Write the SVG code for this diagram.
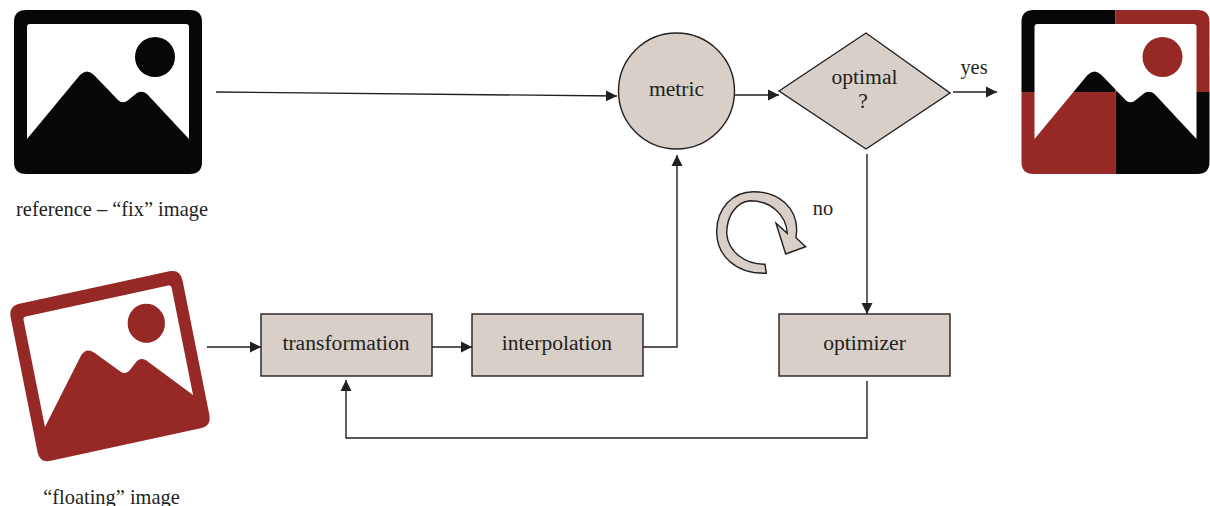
<svg xmlns="http://www.w3.org/2000/svg" width="1210" height="506" viewBox="0 0 1210 506">
<style>
text{font-family:"Liberation Serif","Times New Roman",serif;font-size:20.4px;fill:#231f20;text-anchor:middle}
.l{font-size:21.6px}
.n{fill:#d8d0c8;stroke:#231f20;stroke-width:1.4}
.c{fill:none;stroke:#231f20;stroke-width:1.4;marker-end:url(#a)}
</style>
<defs>
<marker id="a" markerUnits="userSpaceOnUse" markerWidth="13" markerHeight="13" refX="11" refY="6" orient="auto"><path d="M0 .5L11 6L0 11.5Z" fill="#231f20"/></marker>
<path id="pic" fill-rule="evenodd" d="M26 10H190Q202 10 202 22V162Q202 174 190 174H26Q14 174 14 162V22Q14 10 26 10ZM30 24Q27 24 27 27V139L80 75Q87 68 94 75L118 100Q122 104 127 101L137 93Q142 90 147 94L189 139V27Q189 24 186 24ZM155 37A20 20 0 1 0 155.01 77A20 20 0 1 0 155 37Z"/>
<clipPath id="tl"><rect x="0" y="0" width="108" height="92"/></clipPath>
<clipPath id="tr"><rect x="108" y="0" width="110" height="92"/></clipPath>
<clipPath id="bl"><rect x="0" y="92" width="108" height="90"/></clipPath>
<clipPath id="br"><rect x="108" y="92" width="110" height="90"/></clipPath>
</defs>
<g id="reference-image"><use href="#pic" fill="#070707"/><text x="112" y="216">reference – “fix” image</text></g>
<g id="floating-image"><use href="#pic" fill="#962826" transform="matrix(.914 -.198 .191 .957 -6.26 299.4)"/><text x="111.5" y="504">“floating” image</text></g>
<g id="result-image" transform="translate(1007.5 0)">
<use href="#pic" fill="#070707" clip-path="url(#tl)"/>
<use href="#pic" fill="#962826" clip-path="url(#tr)"/>
<use href="#pic" fill="#962826" clip-path="url(#bl)"/>
<use href="#pic" fill="#070707" clip-path="url(#br)"/>
</g>
<g id="connectors">
<path class="c" d="M216 92L617 96"/>
<path class="c" d="M735 95H779"/>
<path class="c" d="M953 92H997"/>
<path class="c" d="M867 154V314"/>
<path class="c" d="M207 347H261"/>
<path class="c" d="M432 347H472"/>
<path class="c" d="M643 347H677V155"/>
<path class="c" d="M867 381V438H346V380"/>
</g>
<g id="metric"><circle class="n" cx="676.5" cy="91" r="58"/><text class="l" x="676.5" y="96">metric</text></g>
<g id="optimal"><path class="n" d="M779 91L866 33L950 93L866 149Z"/><text class="l" x="864.5" y="84">optimal</text><text class="l" x="863" y="108">?</text></g>
<g id="transformation"><rect class="n" x="261" y="314" width="171" height="62"/><text class="l" x="346" y="350">transformation</text></g>
<g id="interpolation"><rect class="n" x="472" y="314" width="171" height="62"/><text class="l" x="557" y="350">interpolation</text></g>
<g id="optimizer"><rect class="n" x="779" y="314" width="171" height="62"/><text class="l" x="864.5" y="350">optimizer</text></g>
<g id="loop"><path class="n" d="M766.3 273.3C735 274 716.7 255 716.7 231.7C716.7 208 733 191.7 753.3 191.7C779 191.7 796.7 208 796.7 230L796 237.7L805.7 246.7L785.7 254L776 223.3L787.3 233.3C786 214 770 200.7 750 200.7C736 202 726.7 216 726.7 233.3C728 252 745 264.3 765 264.3Z"/></g>
<text id="yes" x="974" y="74">yes</text>
<text id="no" x="823" y="215">no</text>
</svg>
